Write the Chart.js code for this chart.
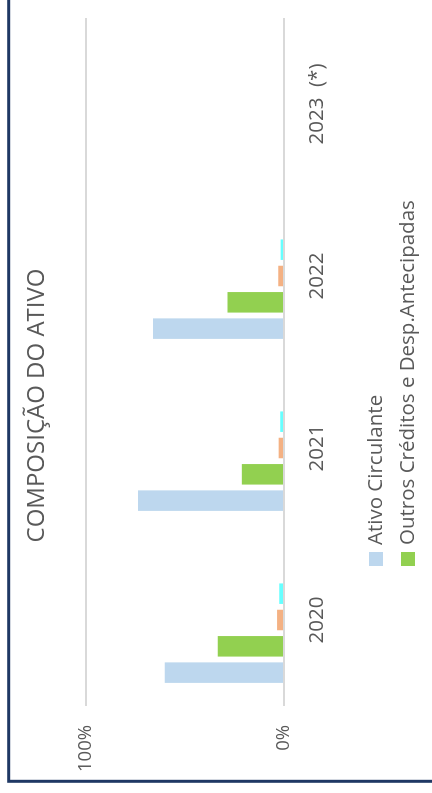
<!DOCTYPE html>
<html>
<head>
<meta charset="utf-8">
<script src="https://cdn.jsdelivr.net/npm/chart.js@4.4.0/dist/chart.umd.min.js"></script>
<style>
  html, body { margin: 0; padding: 0; background: #fff; overflow: hidden; }
  /* chart is drawn landscape, then turned a quarter left like the original */
  #wrap { position: absolute; left: 0; top: 0; width: 793px; height: 432px;
          transform-origin: 0 0; transform: translateY(793px) rotate(-90deg); }
</style>
</head>
<body>
<div id="wrap"><canvas id="chart" width="793" height="432"></canvas></div>
<script>
const years = ["2020", "2021", "2022", "2023  (*)"];
const ativoCirculante = [60.2, 73.8, 66.1, null];
const outrosCreditos = [33.4, 21.3, 28.5, null];
const serieLaranja = [3.5, 2.7, 2.9, null];
const serieCiano = [2.4, 1.9, 1.7, null];
const serieVazia = [null, null, null, null];
const seriesNames = ["Ativo Circulante", "Outros Créditos e Desp.Antecipadas", "", "", ""];
const seriesColors = ["#BDD7EE", "#92D050", "#F4B183", "#66FFFF", "#A5A5A5"];
const yTicks = [0, 100];

const FONT = "'Open Sans', 'Noto Sans', sans-serif";
const TEXT = "#595959";

// legend rows are stacked one per series, left aligned; plus the navy frame
const sideLegend = {
  id: "sideLegend",
  afterDraw(chart) {
    const ctx = chart.ctx;
    ctx.save();
    ctx.font = `20.5px ${FONT}`;
    ctx.textBaseline = "middle";
    chart.data.datasets.forEach((ds, i) => {
      if (!ds.label) return;
      const y = 376 + i * 32;
      ctx.fillStyle = ds.backgroundColor;
      ctx.fillRect(227, y - 7, 14, 14);
      ctx.fillStyle = TEXT;
      ctx.fillText(ds.label, 248, y);
    });
    ctx.strokeStyle = "#1F3864";
    ctx.lineWidth = 3;
    ctx.strokeRect(11.7, 8.7, 1000, 1000);
    ctx.restore();
  },
};

const seriesData = [ativoCirculante, outrosCreditos, serieLaranja, serieCiano, serieVazia];

new Chart(document.getElementById("chart"), {
  type: "bar",
  data: {
    labels: years,
    datasets: seriesData.map((d, i) => ({
      label: seriesNames[i],
      data: d,
      backgroundColor: seriesColors[i],
      borderWidth: 0,
      categoryPercentage: 0.765,
      barPercentage: 0.78,
    })),
  },
  options: {
    responsive: false,
    animation: false,
    layout: { padding: { left: 0, right: 18, top: 0, bottom: 88 } },
    plugins: {
      legend: { display: false },
      tooltip: { enabled: false },
      title: {
        display: true,
        text: "COMPOSIÇÃO DO ATIVO",
        color: TEXT,
        font: { family: FONT, size: 24, weight: "normal" },
        padding: { top: 23, bottom: 34.2 },
      },
    },
    scales: {
      x: {
        grid: { display: false },
        border: { display: false },
        ticks: { color: TEXT, font: { family: FONT, size: 20.5 }, padding: 13, maxRotation: 0, autoSkip: false },
        afterFit(scale) { scale.height = 60; },
      },
      y: {
        min: 0,
        max: 100,
        grid: { color: "#D9D9D9", lineWidth: 2, drawTicks: false },
        border: { display: false },
        ticks: { padding: 19, color: TEXT, font: { family: FONT, size: 18.5 }, callback: (v) => v + "%" },
        afterBuildTicks(scale) { scale.ticks = yTicks.map((v) => ({ value: v })); },
        afterFit(scale) { scale.width = 87; },
      },
    },
  },
  plugins: [sideLegend],
});
</script>
</body>
</html>
